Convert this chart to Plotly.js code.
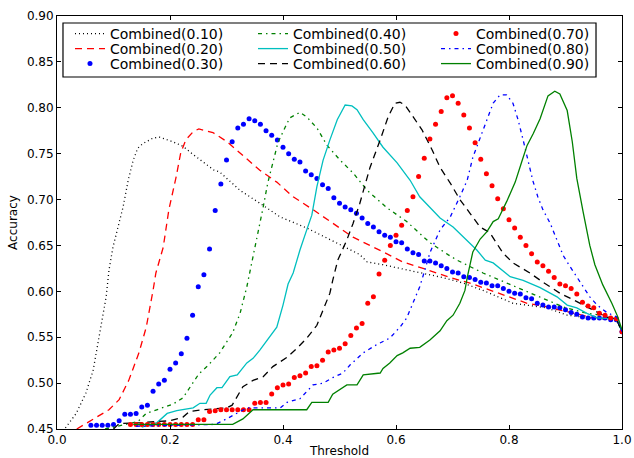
<!DOCTYPE html>
<html>
<head>
<meta charset="utf-8">
<script src="https://cdn.plot.ly/plotly-3.0.1.min.js"></script>
<style>html,body{margin:0;padding:0;background:#fff;}#chart{width:634px;height:458px;}</style>
</head>
<body>
<div id="chart"></div>
<script>
// Combined(0.10)
const x010 = [0.005, 0.016, 0.034, 0.051, 0.064, 0.074, 0.087, 0.092, 0.099, 0.108, 0.117, 0.126, 0.135, 0.143, 0.152, 0.170, 0.181, 0.205, 0.223, 0.241, 0.258, 0.278, 0.288, 0.324, 0.359, 0.395, 0.407, 0.442, 0.478, 0.513, 0.536, 0.549, 0.577, 0.637, 0.683, 0.719, 0.754, 0.807, 0.867, 0.903, 0.943, 0.990, 1.0];
const y010 = [0.445, 0.452, 0.467, 0.489, 0.514, 0.550, 0.594, 0.623, 0.648, 0.670, 0.692, 0.721, 0.743, 0.756, 0.761, 0.767, 0.768, 0.763, 0.758, 0.749, 0.741, 0.732, 0.730, 0.710, 0.696, 0.681, 0.678, 0.669, 0.658, 0.647, 0.640, 0.632, 0.629, 0.621, 0.615, 0.609, 0.601, 0.587, 0.582, 0.574, 0.571, 0.569, 0.556];
// Combined(0.20)
const x020 = [0.035, 0.069, 0.092, 0.110, 0.127, 0.145, 0.158, 0.170, 0.175, 0.188, 0.198, 0.211, 0.219, 0.228, 0.241, 0.251, 0.269, 0.276, 0.301, 0.324, 0.359, 0.389, 0.418, 0.453, 0.488, 0.524, 0.577, 0.612, 0.648, 0.673, 0.696, 0.731, 0.754, 0.796, 0.832, 0.867, 0.913, 0.943, 0.990, 1.0];
const y020 = [0.450, 0.463, 0.471, 0.482, 0.503, 0.533, 0.561, 0.601, 0.620, 0.648, 0.689, 0.725, 0.751, 0.765, 0.774, 0.777, 0.774, 0.773, 0.763, 0.751, 0.732, 0.719, 0.703, 0.689, 0.674, 0.659, 0.643, 0.632, 0.625, 0.620, 0.615, 0.609, 0.604, 0.594, 0.587, 0.583, 0.576, 0.572, 0.570, 0.556];
// Combined(0.30) - points
const x030 = [0.06, 0.07, 0.08, 0.09, 0.10, 0.11, 0.12, 0.13, 0.14, 0.15, 0.16, 0.17, 0.18, 0.19, 0.20, 0.21, 0.22, 0.23, 0.24, 0.25, 0.26, 0.27, 0.28, 0.29, 0.30, 0.31, 0.32, 0.33, 0.34, 0.35, 0.36, 0.37, 0.38, 0.39, 0.40, 0.41, 0.42, 0.43, 0.44, 0.45, 0.46, 0.47, 0.48, 0.49, 0.50, 0.51, 0.52, 0.53, 0.54, 0.55, 0.56, 0.57, 0.58, 0.59, 0.60, 0.61, 0.62, 0.63, 0.64, 0.65, 0.66, 0.67, 0.68, 0.69, 0.70, 0.71, 0.72, 0.73, 0.74, 0.75, 0.76, 0.77, 0.78, 0.79, 0.80, 0.81, 0.82, 0.83, 0.84, 0.85, 0.86, 0.87, 0.88, 0.89, 0.90, 0.91, 0.92, 0.93, 0.94, 0.95, 0.96, 0.97, 0.98, 0.99, 1.00];
const y030 = [0.454, 0.454, 0.454, 0.454, 0.455, 0.459, 0.466, 0.466, 0.467, 0.474, 0.476, 0.491, 0.499, 0.503, 0.515, 0.522, 0.532, 0.549, 0.574, 0.605, 0.618, 0.646, 0.688, 0.717, 0.743, 0.763, 0.778, 0.782, 0.788, 0.786, 0.782, 0.775, 0.770, 0.765, 0.757, 0.750, 0.744, 0.741, 0.731, 0.727, 0.723, 0.716, 0.712, 0.702, 0.696, 0.692, 0.689, 0.685, 0.680, 0.674, 0.670, 0.665, 0.661, 0.659, 0.654, 0.653, 0.646, 0.642, 0.640, 0.633, 0.633, 0.631, 0.628, 0.625, 0.621, 0.620, 0.616, 0.615, 0.613, 0.610, 0.609, 0.606, 0.606, 0.603, 0.600, 0.598, 0.597, 0.593, 0.592, 0.587, 0.585, 0.583, 0.583, 0.582, 0.580, 0.577, 0.575, 0.572, 0.571, 0.571, 0.571, 0.571, 0.569, 0.569, 0.556];
// Combined(0.40)
const x040 = [0.085, 0.143, 0.158, 0.177, 0.205, 0.223, 0.237, 0.251, 0.267, 0.288, 0.311, 0.324, 0.336, 0.347, 0.354, 0.365, 0.373, 0.382, 0.391, 0.404, 0.412, 0.430, 0.442, 0.460, 0.478, 0.501, 0.524, 0.549, 0.584, 0.619, 0.660, 0.692, 0.708, 0.754, 0.796, 0.837, 0.867, 0.896, 0.931, 0.961, 0.990, 1.0];
const y040 = [0.450, 0.458, 0.467, 0.471, 0.477, 0.484, 0.497, 0.510, 0.519, 0.533, 0.555, 0.576, 0.605, 0.640, 0.659, 0.692, 0.718, 0.740, 0.762, 0.779, 0.789, 0.795, 0.790, 0.778, 0.759, 0.743, 0.729, 0.710, 0.691, 0.676, 0.653, 0.640, 0.634, 0.620, 0.609, 0.598, 0.591, 0.583, 0.577, 0.574, 0.570, 0.556];
// Combined(0.50)
const x050 = [0.150, 0.177, 0.195, 0.212, 0.241, 0.253, 0.264, 0.271, 0.283, 0.292, 0.306, 0.319, 0.336, 0.347, 0.359, 0.372, 0.389, 0.400, 0.409, 0.418, 0.430, 0.442, 0.451, 0.460, 0.471, 0.483, 0.496, 0.510, 0.522, 0.531, 0.542, 0.559, 0.577, 0.602, 0.625, 0.642, 0.665, 0.678, 0.701, 0.719, 0.743, 0.758, 0.772, 0.802, 0.825, 0.855, 0.885, 0.903, 0.920, 0.938, 0.956, 0.990, 1.0];
const y050 = [0.452, 0.457, 0.467, 0.470, 0.473, 0.478, 0.478, 0.487, 0.495, 0.495, 0.507, 0.509, 0.522, 0.527, 0.536, 0.547, 0.561, 0.585, 0.608, 0.620, 0.645, 0.667, 0.683, 0.714, 0.743, 0.765, 0.787, 0.803, 0.802, 0.798, 0.787, 0.773, 0.757, 0.740, 0.721, 0.703, 0.689, 0.680, 0.670, 0.659, 0.645, 0.634, 0.631, 0.616, 0.612, 0.604, 0.594, 0.585, 0.582, 0.576, 0.571, 0.570, 0.556];
// Combined(0.60)
const x060 = [0.100, 0.110, 0.150, 0.200, 0.223, 0.234, 0.258, 0.300, 0.310, 0.319, 0.329, 0.347, 0.365, 0.382, 0.407, 0.425, 0.442, 0.460, 0.471, 0.483, 0.488, 0.497, 0.513, 0.524, 0.536, 0.554, 0.572, 0.586, 0.598, 0.607, 0.616, 0.630, 0.646, 0.664, 0.678, 0.696, 0.713, 0.731, 0.749, 0.766, 0.789, 0.807, 0.837, 0.860, 0.890, 0.913, 0.938, 0.956, 0.973, 0.990, 1.0];
const y060 = [0.450, 0.456, 0.457, 0.459, 0.463, 0.469, 0.471, 0.473, 0.476, 0.485, 0.496, 0.503, 0.507, 0.518, 0.528, 0.538, 0.549, 0.563, 0.580, 0.598, 0.612, 0.634, 0.656, 0.674, 0.696, 0.735, 0.765, 0.790, 0.805, 0.806, 0.803, 0.790, 0.776, 0.754, 0.735, 0.718, 0.700, 0.685, 0.670, 0.664, 0.642, 0.631, 0.620, 0.610, 0.598, 0.591, 0.583, 0.577, 0.572, 0.570, 0.556];
// Combined(0.70) - points
const x070 = [0.13, 0.14, 0.15, 0.16, 0.17, 0.18, 0.19, 0.20, 0.21, 0.22, 0.23, 0.24, 0.25, 0.26, 0.27, 0.28, 0.29, 0.30, 0.31, 0.32, 0.33, 0.34, 0.35, 0.36, 0.37, 0.38, 0.39, 0.40, 0.41, 0.42, 0.43, 0.44, 0.45, 0.46, 0.47, 0.48, 0.49, 0.50, 0.51, 0.52, 0.53, 0.54, 0.55, 0.56, 0.57, 0.58, 0.59, 0.60, 0.61, 0.62, 0.63, 0.64, 0.65, 0.66, 0.67, 0.68, 0.69, 0.70, 0.71, 0.72, 0.73, 0.74, 0.75, 0.76, 0.77, 0.78, 0.79, 0.80, 0.81, 0.82, 0.83, 0.84, 0.85, 0.86, 0.87, 0.88, 0.89, 0.90, 0.91, 0.92, 0.93, 0.94, 0.95, 0.96, 0.97, 0.98, 0.99, 1.00];
const y070 = [0.455, 0.455, 0.455, 0.455, 0.455, 0.455, 0.455, 0.455, 0.455, 0.455, 0.455, 0.455, 0.460, 0.460, 0.469, 0.470, 0.471, 0.471, 0.471, 0.471, 0.471, 0.471, 0.478, 0.479, 0.479, 0.488, 0.495, 0.498, 0.499, 0.506, 0.508, 0.511, 0.518, 0.519, 0.525, 0.534, 0.536, 0.538, 0.543, 0.552, 0.560, 0.565, 0.587, 0.594, 0.619, 0.634, 0.650, 0.661, 0.672, 0.688, 0.703, 0.725, 0.745, 0.766, 0.782, 0.796, 0.811, 0.813, 0.805, 0.792, 0.778, 0.762, 0.744, 0.728, 0.715, 0.701, 0.690, 0.678, 0.669, 0.659, 0.650, 0.641, 0.632, 0.628, 0.622, 0.615, 0.608, 0.606, 0.603, 0.597, 0.588, 0.584, 0.582, 0.576, 0.574, 0.571, 0.570, 0.556];
// Combined(0.80)
const x080 = [0.140, 0.253, 0.280, 0.300, 0.336, 0.395, 0.407, 0.430, 0.453, 0.471, 0.488, 0.506, 0.519, 0.542, 0.566, 0.589, 0.607, 0.619, 0.630, 0.642, 0.651, 0.660, 0.678, 0.696, 0.713, 0.726, 0.736, 0.749, 0.761, 0.772, 0.784, 0.796, 0.807, 0.816, 0.825, 0.834, 0.842, 0.851, 0.860, 0.873, 0.885, 0.896, 0.908, 0.920, 0.931, 0.943, 0.956, 0.973, 0.991, 1.0];
const y080 = [0.453, 0.455, 0.455, 0.461, 0.473, 0.473, 0.479, 0.483, 0.498, 0.500, 0.506, 0.511, 0.520, 0.533, 0.542, 0.549, 0.561, 0.571, 0.587, 0.605, 0.623, 0.642, 0.667, 0.681, 0.703, 0.721, 0.746, 0.767, 0.788, 0.805, 0.814, 0.814, 0.805, 0.787, 0.765, 0.743, 0.721, 0.703, 0.689, 0.674, 0.656, 0.639, 0.627, 0.616, 0.605, 0.594, 0.585, 0.577, 0.572, 0.556];
// Combined(0.90)
const x090 = [0.135, 0.311, 0.329, 0.347, 0.442, 0.451, 0.480, 0.488, 0.513, 0.531, 0.542, 0.572, 0.577, 0.589, 0.602, 0.612, 0.625, 0.642, 0.660, 0.678, 0.690, 0.701, 0.713, 0.722, 0.726, 0.731, 0.736, 0.749, 0.761, 0.772, 0.781, 0.796, 0.811, 0.823, 0.832, 0.843, 0.855, 0.869, 0.881, 0.890, 0.903, 0.912, 0.920, 0.931, 0.943, 0.952, 0.966, 0.982, 0.992, 1.0];
const y090 = [0.455, 0.455, 0.461, 0.471, 0.471, 0.479, 0.479, 0.488, 0.498, 0.498, 0.509, 0.511, 0.516, 0.522, 0.530, 0.533, 0.538, 0.539, 0.547, 0.557, 0.568, 0.574, 0.587, 0.601, 0.615, 0.629, 0.643, 0.657, 0.665, 0.676, 0.679, 0.698, 0.719, 0.742, 0.759, 0.772, 0.788, 0.813, 0.818, 0.815, 0.797, 0.763, 0.723, 0.687, 0.650, 0.629, 0.607, 0.587, 0.573, 0.558];

const names = ['Combined(0.10)','Combined(0.20)','Combined(0.30)','Combined(0.40)','Combined(0.50)','Combined(0.60)','Combined(0.70)','Combined(0.80)','Combined(0.90)'];
const xTickVals = [0.0, 0.2, 0.4, 0.6, 0.8, 1.0];
const yTickVals = [0.45, 0.50, 0.55, 0.60, 0.65, 0.70, 0.75, 0.80, 0.85, 0.90];

const LW = 1.3;
function lineTrace(x, y, name, color, dash, leg, rank) {
  return {x: x, y: y, name: name, type: 'scatter', mode: 'lines',
    line: {color: color, width: LW, dash: dash}, legend: leg, legendrank: rank};
}
function dotTrace(x, y, name, color, leg, rank) {
  return {x: x, y: y, name: name, type: 'scatter', mode: 'markers',
    marker: {color: color, size: 5, line: {width: 0}}, legend: leg, legendrank: rank};
}
const data = [
  lineTrace(x010, y010, names[0], '#000000', '1px,3px', 'legend', 1),
  lineTrace(x020, y020, names[1], '#ff0000', '7px,5px', 'legend2', 1),
  dotTrace(x030, y030, names[2], '#0000ff', 'legend3', 1),
  lineTrace(x040, y040, names[3], '#008000', '4px,4px,1.5px,4px', 'legend', 2),
  lineTrace(x050, y050, names[4], '#00bfbf', 'solid', 'legend2', 2),
  lineTrace(x060, y060, names[5], '#000000', '7px,5px', 'legend3', 2),
  dotTrace(x070, y070, names[6], '#ff0000', 'legend', 3),
  lineTrace(x080, y080, names[7], '#0000ff', '4px,4px,1.5px,4px', 'legend2', 3),
  lineTrace(x090, y090, names[8], '#008000', 'solid', 'legend3', 3)
];

const FONT = 'DejaVu Sans, Bitstream Vera Sans, sans-serif';
function legendRow(yCenter) {
  return {
    orientation: 'h', x: 0.023, xanchor: 'left', y: yCenter, yanchor: 'middle',
    bgcolor: 'rgba(0,0,0,0)', borderwidth: 0,
    font: {family: FONT, size: 14, color: '#000000'},
    entrywidth: 138, entrywidthmode: 'pixels', traceorder: 'normal'
  };
}
const layout = {
  width: 634, height: 458,
  margin: {l: 57, r: 12, t: 16, b: 29, pad: 0},
  paper_bgcolor: '#ffffff', plot_bgcolor: '#ffffff',
  font: {family: FONT, size: 12, color: '#000000'},
  showlegend: true,
  legend: legendRow(0.9564),
  legend2: legendRow(0.9201),
  legend3: legendRow(0.8838),
  shapes: [{
    type: 'rect', xref: 'paper', yref: 'paper', layer: 'above',
    x0: 0.0106, x1: 0.954, y0: 0.8523, y1: 0.983,
    fillcolor: '#ffffff', line: {color: '#000000', width: 1.2}
  }],
  xaxis: {
    range: [0, 1], tickvals: xTickVals, tickformat: '.1f',
    ticks: 'inside', ticklen: 4, tickwidth: 1, tickcolor: '#000000',
    showline: true, linecolor: '#000000', linewidth: 1, mirror: 'ticks',
    showgrid: false, zeroline: false,
    tickfont: {family: FONT, size: 12},
    title: {text: 'Threshold', font: {family: FONT, size: 12}, standoff: 4}
  },
  yaxis: {
    range: [0.45, 0.90], tickvals: yTickVals, tickformat: '.2f',
    ticks: 'inside', ticklen: 4, tickwidth: 1, tickcolor: '#000000',
    showline: true, linecolor: '#000000', linewidth: 1, mirror: 'ticks',
    showgrid: false, zeroline: false,
    tickfont: {family: FONT, size: 12},
    title: {text: 'Accuracy', font: {family: FONT, size: 12}, standoff: 6}
  }
};
Plotly.newPlot('chart', data, layout, {displayModeBar: false, staticPlot: true});
</script>
</body>
</html>
